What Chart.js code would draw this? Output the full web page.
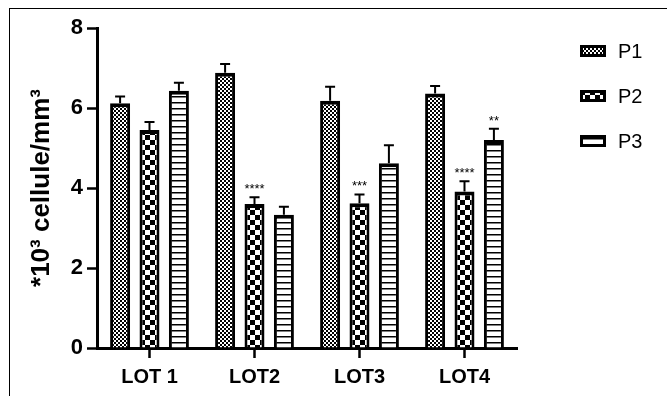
<!DOCTYPE html>
<html>
<head>
<meta charset="utf-8">
<script src="https://cdn.jsdelivr.net/npm/chart.js@4.4.1/dist/chart.umd.min.js"></script>
<style>
  body { margin: 0; background: #fff; }
  #wrap { position: relative; width: 667px; height: 396px; }
  #frame { position: absolute; left: 9px; top: 8px; right: 0; bottom: 0; border-left: 1px solid #000; border-top: 1px solid #000; pointer-events: none; }
</style>
</head>
<body>
<div id="wrap">
  <canvas id="chart" width="667" height="396"></canvas>
  <div id="frame"></div>
</div>
<script>
const lots = ["LOT 1", "LOT2", "LOT3", "LOT4"];
const seriesNames = ["P1", "P2", "P3"];
const p1Values = [6.12, 6.88, 6.18, 6.36];
const p2Values = [5.45, 3.6, 3.62, 3.91];
const p3Values = [6.43, 3.33, 4.62, 5.2];
const p1Errors = [0.17, 0.22, 0.35, 0.19];
const p2Errors = [0.2, 0.17, 0.22, 0.26];
const p3Errors = [0.2, 0.2, 0.45, 0.28];
const p1Stars = ["", "", "", ""];
const p2Stars = ["", "****", "***", "****"];
const p3Stars = ["", "", "", "**"];
const yTicks = [0, 2, 4, 6, 8];

const FONT = "'Liberation Sans', Arial, sans-serif";

// hatch fills, built on small tiles
function makePattern(w, h, paint) {
  const c = document.createElement("canvas");
  c.width = w;
  c.height = h;
  const g = c.getContext("2d");
  g.fillStyle = "#fff";
  g.fillRect(0, 0, w, h);
  g.fillStyle = "#000";
  paint(g);
  return g.createPattern(c, "repeat");
}

const fineChecker = makePattern(4, 4, (g) => {
  g.fillRect(0, 0, 2, 2);
  g.fillRect(2, 2, 2, 2);
});
const bigChecker = makePattern(10, 10, (g) => {
  g.fillRect(0, 0, 5, 5);
  g.fillRect(5, 5, 5, 5);
});
const hLines = makePattern(6, 6, (g) => {
  g.fillRect(0, 0, 6, 1.5);
});

const errorBars = {
  id: "errorBars",
  afterDatasetsDraw(chart) {
    const ctx = chart.ctx;
    const yScale = chart.scales.y;
    chart.data.datasets.forEach((ds, i) => {
      const meta = chart.getDatasetMeta(i);
      meta.data.forEach((bar, j) => {
        const top = yScale.getPixelForValue(ds.data[j] + ds.errors[j]);
        ctx.save();
        ctx.strokeStyle = "#000";
        ctx.lineWidth = 2;
        ctx.beginPath();
        ctx.moveTo(bar.x, bar.y);
        ctx.lineTo(bar.x, top);
        ctx.moveTo(bar.x - 5, top);
        ctx.lineTo(bar.x + 5, top);
        ctx.stroke();
        if (ds.stars[j]) {
          ctx.fillStyle = "#000";
          ctx.font = "13px " + FONT;
          ctx.textAlign = "center";
          ctx.textBaseline = "alphabetic";
          ctx.fillText(ds.stars[j], bar.x, top - 4);
        }
        ctx.restore();
      });
    });
  }
};

const sideLegend = {
  id: "sideLegend",
  afterDraw(chart) {
    const ctx = chart.ctx;
    chart.data.datasets.forEach((ds, i) => {
      const cy = 51 + i * 45;
      ctx.save();
      ctx.fillStyle = ds.backgroundColor;
      ctx.fillRect(580, cy - 6, 26, 12);
      ctx.strokeStyle = "#000";
      ctx.lineWidth = 3;
      ctx.strokeRect(581.5, cy - 4.5, 23, 9);
      ctx.fillStyle = "#000";
      ctx.font = "20px " + FONT;
      ctx.textBaseline = "middle";
      ctx.fillText(ds.label, 618, cy + 1);
      ctx.restore();
    });
  }
};

function makeDataset(name, values, errors, stars, fill) {
  return {
    label: name,
    data: values,
    errors: errors,
    stars: stars,
    backgroundColor: fill,
    borderColor: "#000",
    borderWidth: { top: 4, left: 3, right: 3, bottom: 0 },
    categoryPercentage: 0.84,
    barPercentage: 0.68
  };
}

const axisGrid = {
  drawOnChartArea: false,
  drawTicks: true,
  tickLength: 10,
  tickWidth: 2.5,
  tickColor: "#000",
  offset: false
};

new Chart(document.getElementById("chart"), {
  type: "bar",
  data: {
    labels: lots,
    datasets: [
      makeDataset(seriesNames[0], p1Values, p1Errors, p1Stars, fineChecker),
      makeDataset(seriesNames[1], p2Values, p2Errors, p2Stars, bigChecker),
      makeDataset(seriesNames[2], p3Values, p3Errors, p3Stars, hLines)
    ]
  },
  options: {
    responsive: false,
    animation: false,
    devicePixelRatio: 1,
    layout: { padding: { left: 26, top: 28, right: 150, bottom: 0 } },
    plugins: {
      legend: { display: false },
      tooltip: { enabled: false }
    },
    scales: {
      x: {
        offset: true,
        grid: axisGrid,
        border: { display: true, color: "#000", width: 3 },
        ticks: {
          color: "#000",
          padding: 7,
          maxRotation: 0,
          font: { family: FONT, size: 20, weight: "bold" }
        },
        afterFit: (s) => { s.height = 48; }
      },
      y: {
        min: 0,
        max: 8,
        afterBuildTicks: (s) => { s.ticks = yTicks.map((v) => ({ value: v })); },
        grid: axisGrid,
        border: { display: true, color: "#000", width: 3 },
        ticks: {
          color: "#000",
          padding: 4,
          font: { family: FONT, size: 22, weight: "bold" }
        },
        title: {
          display: true,
          text: "*10³ cellule/mm³",
          color: "#000",
          padding: { top: 0, bottom: 4 },
          font: { family: FONT, size: 26, weight: "bold" }
        },
        afterFit: (s) => { s.width = 71; }
      }
    }
  },
  plugins: [errorBars, sideLegend]
});
</script>
</body>
</html>
